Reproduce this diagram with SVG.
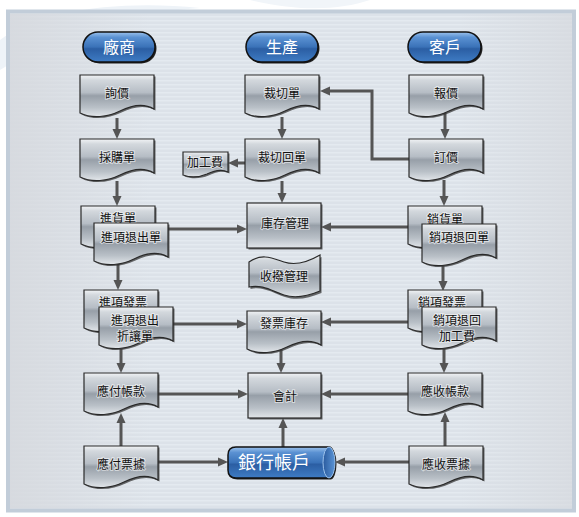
<svg xmlns="http://www.w3.org/2000/svg" xmlns:xlink="http://www.w3.org/1999/xlink" width="579" height="517" viewBox="0 0 579 517">
<style>
.t{font-family:"Noto Sans CJK TC","Noto Sans CJK SC",sans-serif;font-size:12px;fill:#111;text-anchor:middle;paint-order:stroke;stroke:#fff;stroke-width:2;stroke-opacity:.55}
.tw{font-family:"Noto Sans CJK TC","Noto Sans CJK SC",sans-serif;font-size:16px;fill:#fff;text-anchor:middle}
.g{fill:url(#gray);stroke:#2a2a2a;stroke-width:1.2}
.sh{fill:#3a3a3a;opacity:.75}
.b{fill:url(#blue);stroke:#111;stroke-width:1.5}
.c line,.c polyline{stroke:#555;stroke-width:3;fill:none;marker-end:url(#ah)}
</style>
<defs>
<linearGradient id="gray" x1="0" y1="0" x2="0" y2="1">
<stop offset="0" stop-color="#f2f4f6"/>
<stop offset="0.12" stop-color="#d3d8dd"/>
<stop offset="0.42" stop-color="#b6bdc5"/>
<stop offset="0.5" stop-color="#979fa8"/>
<stop offset="0.78" stop-color="#b9c0c7"/>
<stop offset="1" stop-color="#e2e6ea"/>
</linearGradient>
<linearGradient id="blue" x1="0" y1="0" x2="0" y2="1">
<stop offset="0" stop-color="#9cc2ec"/>
<stop offset="0.18" stop-color="#5a91d2"/>
<stop offset="0.5" stop-color="#3a72b8"/>
<stop offset="0.56" stop-color="#2b5ea3"/>
<stop offset="1" stop-color="#3f7cc4"/>
</linearGradient>
<linearGradient id="cap" x1="0" y1="0" x2="1" y2="0">
<stop offset="0" stop-color="#2a5b9e"/>
<stop offset="1" stop-color="#5a94d6"/>
</linearGradient>
<pattern id="stripes" width="8" height="4" patternUnits="userSpaceOnUse">
<rect width="8" height="4" fill="#dce2e9"/>
<rect width="8" height="1.5" fill="#e4eaf0"/>
</pattern>
<linearGradient id="fade" x1="0" y1="0" x2="1" y2="0">
<stop offset="0" stop-color="#d6d9de" stop-opacity=".9"/>
<stop offset="0.25" stop-color="#d6d9de" stop-opacity="0"/>
<stop offset="0.8" stop-color="#d6d9de" stop-opacity="0"/>
<stop offset="1" stop-color="#d6d9de" stop-opacity=".7"/>
</linearGradient>
<path id="doc" d="M0,0 H74 V34 C64,28 52,30 40,36 C28,42 12,44 0,38 Z"/>
<path id="sdoc" d="M0,0 H45 V20 C39,17 32,18 24,22 C17,25 8,26 0,23 Z"/>
<marker id="ah" markerUnits="userSpaceOnUse" markerWidth="11" markerHeight="10" refX="4" refY="5" orient="auto">
<path d="M0,0.5 L10,5 L0,9.5 Z" fill="#555"/>
</marker>
</defs>
<rect width="579" height="517" fill="#fff"/>
<path d="M0,40 C40,10 120,0 200,8 C150,12 80,20 0,70 Z" fill="#eef3f8"/>
<path d="M250,0 C300,12 340,10 370,0 Z" fill="#f1f5f9"/>
<rect x="8" y="11.5" width="566" height="499" fill="url(#stripes)" stroke="#c2cdd9" stroke-width="4"/>
<rect x="10" y="13.5" width="562" height="495" fill="url(#fade)"/>

<g class="c" id="connectors">
<line x1="117" y1="118" x2="117" y2="133"/>
<line x1="117" y1="181" x2="117" y2="200"/>
<line x1="282" y1="117" x2="282" y2="133"/>
<line x1="245" y1="163" x2="234" y2="163"/>
<line x1="282" y1="181" x2="282" y2="197"/>
<line x1="445" y1="113" x2="445" y2="133"/>
<polyline points="409,159 372,159 372,91 326,91"/>
<line x1="444" y1="180" x2="444" y2="200"/>
<line x1="168" y1="229" x2="241" y2="229"/>
<line x1="408" y1="227" x2="327" y2="227"/>
<line x1="118" y1="264" x2="118" y2="284"/>
<line x1="443" y1="264" x2="443" y2="285"/>
<line x1="172" y1="324" x2="241" y2="324"/>
<line x1="408" y1="322" x2="327" y2="322"/>
<line x1="121" y1="346" x2="121" y2="367"/>
<line x1="281" y1="350" x2="281" y2="367"/>
<line x1="444" y1="346" x2="444" y2="367"/>
<line x1="158" y1="394" x2="242" y2="394"/>
<line x1="408" y1="394" x2="327" y2="394"/>
<line x1="121" y1="446" x2="121" y2="419"/>
<line x1="445" y1="446" x2="445" y2="418"/>
<line x1="158" y1="462" x2="222" y2="462"/>
<line x1="409" y1="462" x2="341" y2="462"/>
<line x1="283" y1="447" x2="283" y2="424"/>
</g>

<g id="t-vendor"><rect x="84.5" y="33.5" width="72" height="30" rx="15" fill="#222"/><rect x="83" y="32" width="72" height="30" rx="15" class="b"/><text x="119" y="53" class="tw">廠商</text></g>
<g id="t-prod"><rect x="247.5" y="33.5" width="72" height="30" rx="15" fill="#222"/><rect x="246" y="32" width="72" height="30" rx="15" class="b"/><text x="282" y="53" class="tw">生產</text></g>
<g id="t-cust"><rect x="409.5" y="33.5" width="73" height="30" rx="15" fill="#222"/><rect x="408" y="32" width="73" height="30" rx="15" class="b"/><text x="445" y="53" class="tw">客戶</text></g>

<g id="n-inquiry"><use href="#doc" x="81.5" y="76.5" class="sh"/><use href="#doc" x="80" y="75" class="g"/><text x="117" y="98" class="t">詢價</text></g>
<g id="n-po"><use href="#doc" x="81.5" y="140.5" class="sh"/><use href="#doc" x="80" y="139" class="g"/><text x="117" y="162" class="t">採購單</text></g>
<g id="n-cut"><use href="#doc" x="246.5" y="76.5" class="sh"/><use href="#doc" x="245" y="75" class="g"/><text x="282" y="98" class="t">裁切單</text></g>
<g id="n-cutret"><use href="#doc" x="246.5" y="140.5" class="sh"/><use href="#doc" x="245" y="139" class="g"/><text x="282" y="162" class="t">裁切回單</text></g>
<g id="n-fee"><use href="#sdoc" x="184.5" y="153.5" class="sh"/><use href="#sdoc" x="183" y="152" class="g"/><text x="205" y="167" class="t">加工費</text></g>
<g id="n-quote"><use href="#doc" x="410.5" y="76.5" class="sh"/><use href="#doc" x="409" y="75" class="g"/><text x="446" y="98" class="t">報價</text></g>
<g id="n-order"><use href="#doc" x="410.5" y="140.5" class="sh"/><use href="#doc" x="409" y="139" class="g"/><text x="446" y="162" class="t">訂價</text></g>

<g id="n-inv"><rect x="248.5" y="204.5" width="74" height="45" class="sh"/><rect x="247" y="203" width="74" height="45" class="g"/><text x="285" y="228" class="t">庫存管理</text></g>
<g id="n-transfer"><path d="M250.5,264 C263,255 273,260 285,264 C297,268 309,264 321.5,257 V293 C309,298 297,301 285,297 C273,293 263,286 250.5,289 Z" class="sh"/><path d="M249,262 C262,253 272,258 284,262 C296,266 308,262 320,255 V291 C308,296 296,299 284,295 C272,291 262,284 249,287 Z" class="g"/><text x="284" y="281" class="t">收撥管理</text></g>

<g id="n-recv"><use href="#doc" x="82.5" y="207.5" class="sh"/><use href="#doc" x="81" y="206" class="g"/><text x="118" y="223" class="t">進貨單</text><use href="#doc" x="95.5" y="224.5" class="sh"/><use href="#doc" x="94" y="223" class="g"/><text x="131" y="242" class="t">進項退出單</text></g>
<g id="n-sales"><use href="#doc" x="409.5" y="207.5" class="sh"/><use href="#doc" x="408" y="206" class="g"/><text x="445" y="224" class="t">銷貨單</text><use href="#doc" x="423.5" y="225.5" class="sh"/><use href="#doc" x="422" y="224" class="g"/><text x="459" y="242" class="t">銷項退回單</text></g>

<g id="n-pinv"><use href="#doc" x="85.5" y="291.5" class="sh"/><use href="#doc" x="84" y="290" class="g"/><text x="123" y="307" class="t">進項發票</text><use href="#doc" x="100.5" y="308.5" class="sh"/><use href="#doc" x="99" y="307" class="g"/><text x="135" y="325" class="t">進項退出</text><text x="135" y="341" class="t">折讓單</text></g>
<g id="n-invstock"><use href="#doc" x="248.5" y="312.5" class="sh"/><use href="#doc" x="247" y="311" class="g"/><text x="284" y="328" class="t">發票庫存</text></g>
<g id="n-sinv"><use href="#doc" x="409.5" y="291.5" class="sh"/><use href="#doc" x="408" y="290" class="g"/><text x="442" y="307" class="t">銷項發票</text><use href="#doc" x="423.5" y="308.5" class="sh"/><use href="#doc" x="422" y="307" class="g"/><text x="457" y="325" class="t">銷項退回</text><text x="457" y="341" class="t">加工費</text></g>

<g id="n-ap"><use href="#doc" x="85.5" y="374.5" class="sh"/><use href="#doc" x="84" y="373" class="g"/><text x="121" y="396" class="t">應付帳款</text></g>
<g id="n-acct"><rect x="249.5" y="374.5" width="73" height="45" class="sh"/><rect x="248" y="373" width="73" height="45" class="g"/><text x="285" y="401" class="t">會計</text></g>
<g id="n-ar"><use href="#doc" x="409.5" y="374.5" class="sh"/><use href="#doc" x="408" y="373" class="g"/><text x="445" y="396" class="t">應收帳款</text></g>

<g id="n-np"><use href="#doc" x="85.5" y="447.5" class="sh"/><use href="#doc" x="84" y="446" class="g"/><text x="121" y="469" class="t">應付票據</text></g>
<g id="n-bank"><path d="M237.5,448.5 H330.5 A6,15.5 0 0 1 330.5,479.5 H237.5 Q229.5,479.5 229.5,471.5 V456.5 Q229.5,448.5 237.5,448.5 Z" fill="#222"/><path d="M236,447 H329 A6,15.5 0 0 1 329,478 H236 Q228,478 228,470 V455 Q228,447 236,447 Z" class="b"/><ellipse cx="329" cy="462.5" rx="6" ry="15.5" fill="url(#cap)" stroke="#9cc2ec" stroke-width="1"/><text x="274" y="469" class="tw" style="font-size:18px">銀行帳戶</text></g>
<g id="n-nr"><use href="#doc" x="410.5" y="447.5" class="sh"/><use href="#doc" x="409" y="446" class="g"/><text x="446" y="469" class="t">應收票據</text></g>
</svg>
